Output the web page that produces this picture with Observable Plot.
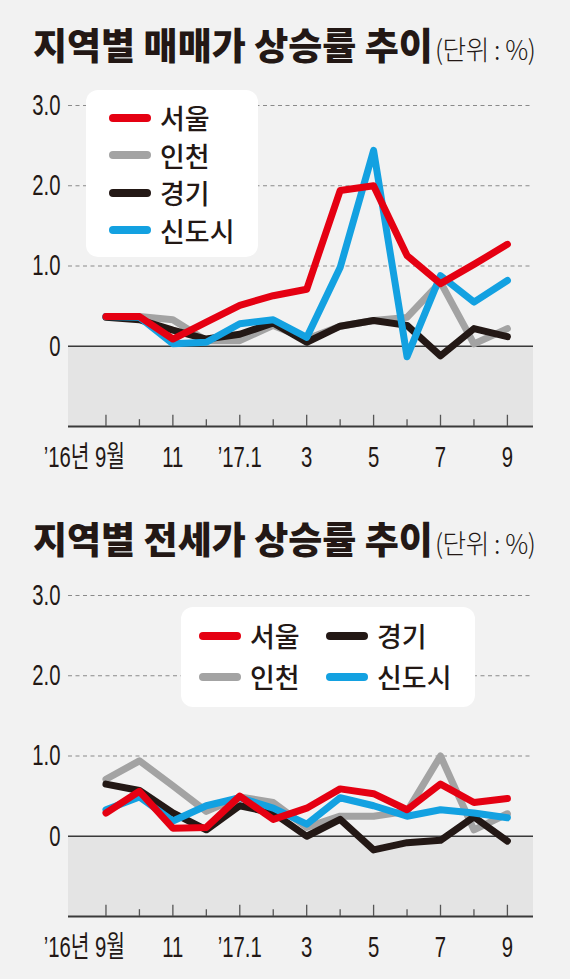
<!DOCTYPE html>
<html><head><meta charset="utf-8">
<script src="https://cdn.jsdelivr.net/npm/d3@7"></script>
<script src="https://cdn.jsdelivr.net/npm/@observablehq/plot@0.6"></script>
<style>
html,body{margin:0;padding:0;background:#f2f2f2;}
#wrap{position:relative;width:570px;height:979px;overflow:hidden;background:#f2f2f2;font-family:"Noto Sans CJK KR",sans-serif;color:#231815;}
.title{position:absolute;left:33px;white-space:nowrap;font-size:37px;font-weight:900;line-height:1;}
.title .unit{display:inline-block;font-size:27px;font-weight:300;margin-left:2px;transform:scaleX(0.95);transform-origin:left bottom;letter-spacing:-0.5px;}
.chart{position:absolute;left:0;width:570px;height:400px;}
.legend{position:absolute;background:#fff;border-radius:12px;box-sizing:border-box;display:grid;}
.item{display:flex;align-items:center;font-size:27px;font-weight:500;line-height:1;white-space:nowrap;}
.sw{width:42px;height:8px;border-radius:4px;margin-right:9px;flex:none;}
</style>
</head><body>
<div id="wrap">
  <div class="title" id="t1"></div>
  <div class="chart" id="c1"></div>
  <div class="legend" id="l1"></div>
  <div class="title" id="t2"></div>
  <div class="chart" id="c2"></div>
  <div class="legend" id="l2"></div>
</div>
<script>
// ---- data ----
const months = ["2016-09","2016-10","2016-11","2016-12","2017-01","2017-02","2017-03","2017-04","2017-05","2017-06","2017-07","2017-08","2017-09"];
const seriesNames = ["서울","인천","경기","신도시"];
const seriesColors = ["#e50012","#a3a3a3","#231815","#13a1e1"];
const drawOrder = ["인천","경기","신도시","서울"];

// 매매가 상승률 (%)
const saleSeoul    = [0.37,0.37,0.09,0.30,0.51,0.63,0.71,1.94,2.00,1.13,0.78,1.02,1.27];
const saleIncheon  = [0.37,0.37,0.33,0.07,0.07,0.26,0.09,0.25,0.32,0.36,0.80,0.03,0.22];
const saleGyeonggi = [0.36,0.33,0.20,0.09,0.15,0.29,0.05,0.25,0.32,0.26,-0.12,0.22,0.12];
const saleSindosi  = [0.37,0.36,0.03,0.05,0.28,0.33,0.11,0.98,2.44,-0.13,0.88,0.55,0.82];

// 전세가 상승률 (%)
const rentSeoul    = [0.29,0.56,0.10,0.11,0.50,0.21,0.35,0.59,0.53,0.33,0.65,0.42,0.47];
const rentIncheon  = [0.71,0.94,0.63,0.31,0.49,0.42,0.11,0.25,0.25,0.31,1.00,0.08,0.28];
const rentGyeonggi = [0.65,0.57,0.29,0.08,0.38,0.29,0.00,0.21,-0.17,-0.08,-0.05,0.24,-0.06];
const rentSindosi  = [0.33,0.49,0.19,0.38,0.48,0.35,0.15,0.48,0.38,0.25,0.33,0.29,0.23];

const yTicks = [0,1,2,3];
const yTickLabels = ["0","1.0","2.0","3.0"];
const xLabelIdx = [0,2,4,6,8,10,12];
const xLabels = ["’16년 9월","11","’17.1","3","5","7","9"];
const xMajorIdx = [0,2,4,6,8,10,12];
const xMinorIdx = [1,3,5,7,9,11];

const titles = ["지역별 매매가 상승률 추이","지역별 전세가 상승률 추이"];
const unitText = "(단위 : %)";

// ---- chart ----
const yMin = -1, yMax = 3;
const xDomain = [-1.12, 12.78];
const numFont = '"Liberation Sans","Noto Sans CJK KR",sans-serif';
const condense = 0.7;
const numSize = 29;

function narrowTexts(svg) {
  svg.querySelectorAll("text").forEach(t => {
    const xa = t.getAttribute("x");
    const x = xa && !/em/.test(xa) ? (parseFloat(xa) || 0) : 0;
    const tr = t.getAttribute("transform") || "";
    t.setAttribute("transform", `${tr} translate(${x},0) scale(${condense},1) translate(${-x},0)`);
  });
  return svg;
}

function makeChart(valuesByName) {
  const rows = [];
  for (const s of drawOrder) valuesByName[s].forEach((v, i) => rows.push({i, month: months[i], v, s}));
  const tickRow = xLabelIdx.map((i, k) => ({i, label: xLabels[k]}));
  const svg = Plot.plot({
    width: 570, height: 400,
    marginTop: 25, marginBottom: 54, marginLeft: 68, marginRight: 37,
    x: {domain: xDomain, axis: null},
    y: {domain: [yMin, yMax], axis: null},
    color: {domain: seriesNames, range: seriesColors},
    style: {background: "transparent", fontFamily: numFont, color: "#231815", overflow: "visible"},
    marks: [
      Plot.rect([0], {x1: xDomain[0], x2: xDomain[1], y1: yMin, y2: 0, fill: "#e4e4e4"}),
      Plot.ruleY(yTicks.filter(d => d > 0), {stroke: "#8a8a8a", strokeWidth: 1, strokeDasharray: "4,3.5"}),
      Plot.ruleY([0], {stroke: "#3a3a3a", strokeWidth: 1.5}),
      Plot.ruleY([yMin], {stroke: "#3a3a3a", strokeWidth: 2}),
      Plot.ruleX(xMajorIdx, {x: d => d, y1: yMin, y2: yMin + 0.14, stroke: "#555", strokeWidth: 1.3}),
      Plot.ruleX(xMinorIdx, {x: d => d, y1: yMin, y2: yMin + 0.085, stroke: "#555", strokeWidth: 1.3}),
      Plot.axisY(yTicks, {label: null, tickSize: 0, tickPadding: 8, fontSize: numSize, tickFormat: d => yTickLabels[yTicks.indexOf(d)], fill: "#231815"}),
      Plot.text(tickRow.slice(1), {x: "i", text: "label", frameAnchor: "bottom", dy: 31, lineAnchor: "middle", fontSize: numSize, fill: "#231815"}),
      Plot.text(tickRow.slice(0, 1), {x: "i", text: "label", frameAnchor: "bottom", dy: 31, dx: 19, textAnchor: "end", lineAnchor: "middle", fontSize: numSize, fill: "#231815"}),
      Plot.line(rows, {x: "i", y: "v", z: "s", stroke: "s", strokeWidth: 7, strokeLinejoin: "round", strokeLinecap: "round"})
    ]
  });
  return narrowTexts(svg);
}

function makeLegend(el, cols) {
  const rowsN = Math.ceil(seriesNames.length / cols);
  el.style.gridAutoFlow = "column";
  el.style.gridTemplateRows = `repeat(${rowsN}, ${cols === 1 ? 37.5 : 41}px)`;
  seriesNames.forEach((name, k) => {
    const it = document.createElement("div");
    it.className = "item";
    const sw = document.createElement("div");
    sw.className = "sw";
    sw.style.background = seriesColors[k];
    it.appendChild(sw);
    it.appendChild(document.createTextNode(name));
    el.appendChild(it);
  });
}

function setTitle(el, text, top) {
  el.style.top = top + "px";
  el.textContent = text;
  const u = document.createElement("span");
  u.className = "unit";
  u.textContent = unitText;
  el.appendChild(u);
}

setTitle(document.getElementById("t1"), titles[0], 26);
setTitle(document.getElementById("t2"), titles[1], 520);

const c1 = document.getElementById("c1");
c1.style.top = "80px";
c1.appendChild(makeChart({"서울": saleSeoul, "인천": saleIncheon, "경기": saleGyeonggi, "신도시": saleSindosi}));
const c2 = document.getElementById("c2");
c2.style.top = "570px";
c2.appendChild(makeChart({"서울": rentSeoul, "인천": rentIncheon, "경기": rentGyeonggi, "신도시": rentSindosi}));

const l1 = document.getElementById("l1");
Object.assign(l1.style, {left: "86px", top: "90px", width: "172px", height: "167px", padding: "9px 0 0 23px", gridTemplateColumns: "1fr"});
makeLegend(l1, 1);
const l2 = document.getElementById("l2");
Object.assign(l2.style, {left: "181px", top: "607px", width: "294px", height: "100px", padding: "8px 0 0 18px", gridTemplateColumns: "127px 1fr"});
makeLegend(l2, 2);
</script>
</body></html>
